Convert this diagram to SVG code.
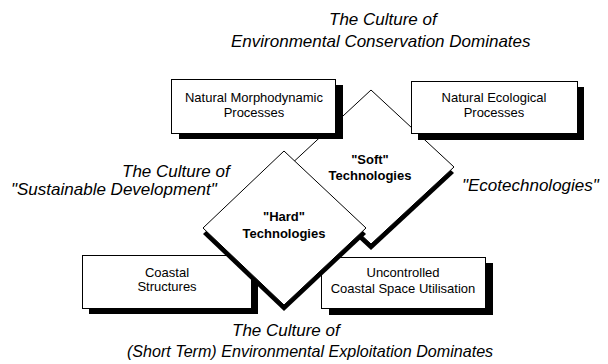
<svg xmlns="http://www.w3.org/2000/svg" width="608" height="364" viewBox="0 0 608 364">
<style>
.bg{fill:#ffffff}
.box{fill:#ffffff;stroke:#000000;stroke-width:1}
.shadow{fill:#000000;stroke:none}
.bt{font-family:"Liberation Sans",Arial,sans-serif;font-size:13px;fill:#000000;text-anchor:middle}
.dt{font-family:"Liberation Sans",Arial,sans-serif;font-size:13px;font-weight:bold;fill:#000000;text-anchor:middle}
.it{font-family:"Liberation Sans",Arial,sans-serif;font-size:17px;font-style:italic;fill:#000000}
</style>
<rect class="bg" x="0" y="0" width="608" height="364"/>

<g id="labels">
<text class="it" x="329" y="25">The Culture of</text>
<text class="it" x="231" y="47">Environmental Conservation Dominates</text>
<text class="it" x="122" y="177">The Culture of</text>
<text class="it" x="11" y="195">"Sustainable Development"</text>
<text class="it" x="462" y="191">"Ecotechnologies"</text>
<text class="it" x="232" y="336">The Culture of</text>
<text class="it" x="127" y="357" style="font-size:16.1px">(Short Term) Environmental Exploitation Dominates</text>
</g>

<g id="coastal-structures">
<rect class="shadow" x="89" y="261" width="169" height="53"/>
<rect class="box" x="82.5" y="255.5" width="169" height="53"/>
<text class="bt" x="167" y="277">Coastal</text>
<text class="bt" x="167" y="291">Structures</text>
</g>

<g id="uncontrolled-coastal-space">
<rect class="shadow" x="329" y="263" width="164" height="52"/>
<rect class="box" x="321.5" y="257.5" width="164" height="51"/>
<text class="bt" x="403" y="277">Uncontrolled</text>
<text class="bt" x="403" y="293">Coastal Space Utilisation</text>
</g>

<g id="soft-technologies">
<polygon class="shadow" points="371,96 454,173 371,250 288,173"/>
<polygon class="box" points="371,90 454,167 371,244 288,167"/>
<text class="dt" x="370" y="164">"Soft"</text>
<text class="dt" x="370" y="180">Technologies</text>
</g>

<g id="hard-technologies">
<polygon class="shadow" points="284,157 366,234 284,311 203,234"/>
<polygon class="box" points="284,151 366,228 284,305 203,228"/>
<text class="dt" x="284" y="221">"Hard"</text>
<text class="dt" x="284" y="238">Technologies</text>
</g>

<g id="natural-morphodynamic">
<rect class="shadow" x="179" y="85" width="164" height="54"/>
<rect class="box" x="171.5" y="79.5" width="164" height="54"/>
<text class="bt" x="254" y="102">Natural Morphodynamic</text>
<text class="bt" x="254" y="117">Processes</text>
</g>

<g id="natural-ecological">
<rect class="shadow" x="418" y="87" width="166" height="53"/>
<rect class="box" x="411.5" y="81.5" width="166" height="52"/>
<text class="bt" x="494" y="102">Natural Ecological</text>
<text class="bt" x="494" y="117">Processes</text>
</g>
</svg>
